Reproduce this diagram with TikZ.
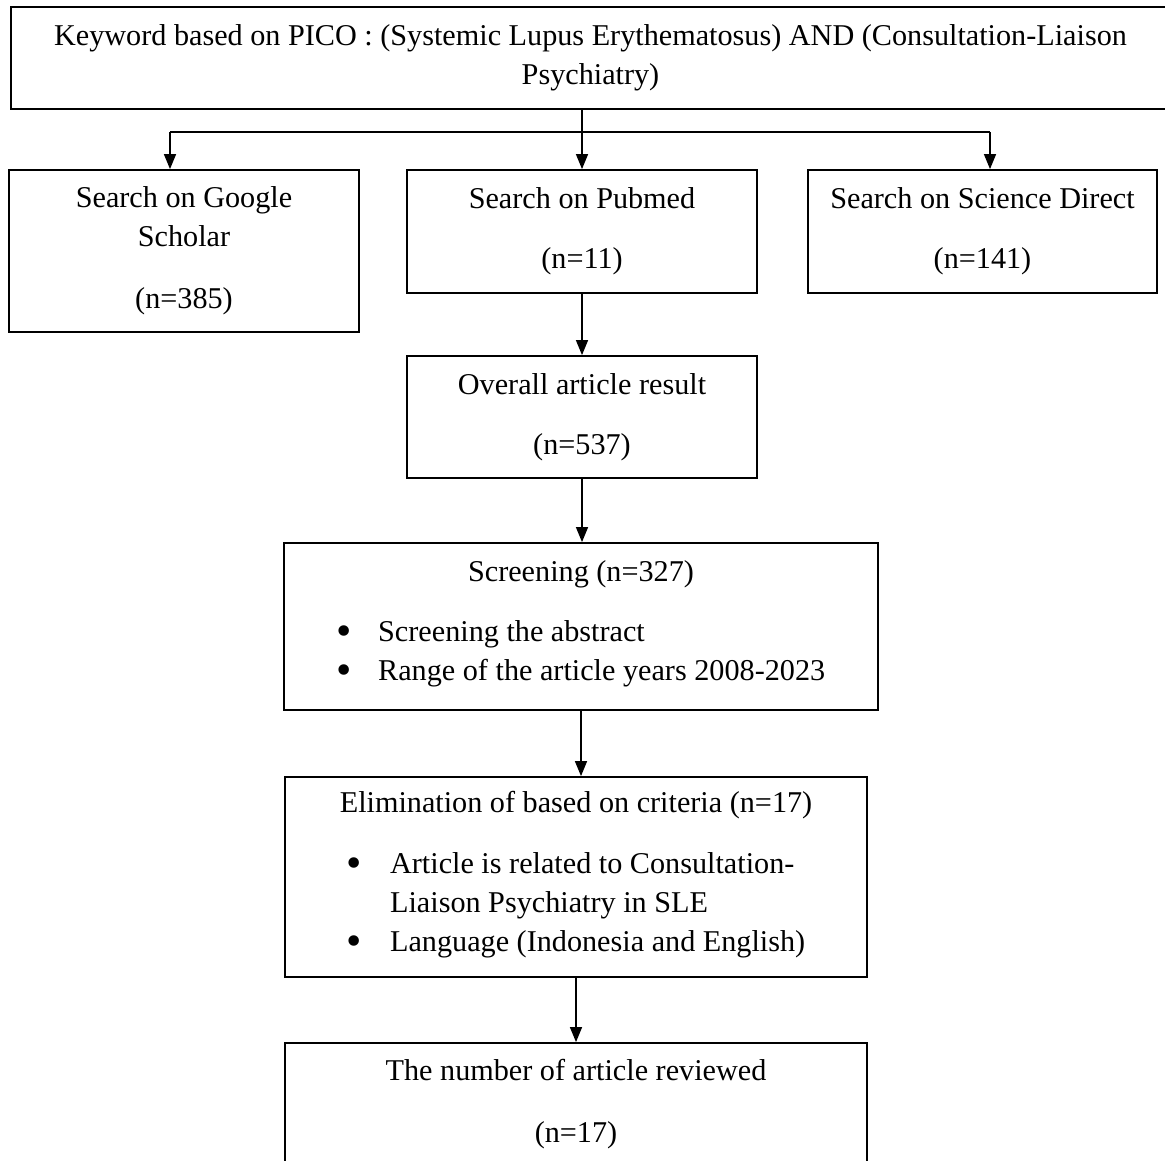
\documentclass[tikz,border=0pt]{standalone}
\usepackage{fontspec}
\setmainfont{Liberation Serif}
\usetikzlibrary{arrows.meta}

\newcommand\blt{\raisebox{-2pt}{\scalebox{1.45}{\textbullet}}}

\tikzset{
  box/.style={draw, line width=0.9pt, inner sep=0pt, align=center, font=\fontsize{15.1}{19.5}\selectfont},
  arr/.style={line width=0.7pt, -{Triangle[width=6pt,length=7.5pt]}}
}

\begin{document}
\begin{tikzpicture}[x=0.5pt, y=-0.5pt]
\useasboundingbox (0,0) rectangle (1165,1160);

\node[box, minimum width=579.5pt, minimum height=51pt] (kw) at (590.5,58) {Keyword based on PICO : (Systemic Lupus Erythematosus) AND (Consultation-Liaison\\Psychiatry)};

\node[box, minimum width=175pt, minimum height=81pt] (gs) at (184,251) {Search on Google\\Scholar\\[11.5pt](n=385)};
\node[box, minimum width=175pt, minimum height=61.5pt] (pm) at (582,231.5) {Search on Pubmed\\[10.5pt](n=11)};
\node[box, minimum width=174.5pt, minimum height=61.5pt] (sd) at (982.5,231.5) {Search on Science Direct\\[10.5pt](n=141)};

\node[box, minimum width=175pt, minimum height=61pt] (ov) at (582,417) {Overall article result\\[10.5pt](n=537)};

\node[box, minimum width=297pt, minimum height=83.5pt] (sc) at (581,626.5) {Screening (n=327)\\[10.5pt]%
\begin{tabular}[t]{@{}l@{\hspace{13pt}}l@{}}
\blt & Screening the abstract\\
\blt & Range of the article years 2008-2023
\end{tabular}};

\node[box, minimum width=291pt, minimum height=100pt] (el) at (576,877) {Elimination of based on criteria (n=17)\\[11pt]%
\begin{tabular}[t]{@{}l@{\hspace{14pt}}l@{}}
\blt & Article is related to Consultation-\\
 & Liaison Psychiatry in SLE\\
\blt & Language (Indonesia and English)
\end{tabular}};

\node[box, minimum width=291pt, minimum height=61pt] (nr) at (576,1104) {The number of article reviewed\\[11.5pt](n=17)};

\coordinate (sgs) at (170,132);
\coordinate (ssd) at (990,132);

\draw[arr] (kw.south -| pm.north) -- (pm.north);
\draw[line width=0.7pt] (sgs) -- (ssd);
\draw[arr] (sgs) -- (sgs |- gs.north);
\draw[arr] (ssd) -- (ssd |- sd.north);

\draw[arr] (pm) -- (ov);
\draw[arr] (ov.south) -- (ov.south |- sc.north);
\draw[arr] (sc.south) -- (sc.south |- el.north);
\draw[arr] (el) -- (nr);

\end{tikzpicture}
\end{document}
